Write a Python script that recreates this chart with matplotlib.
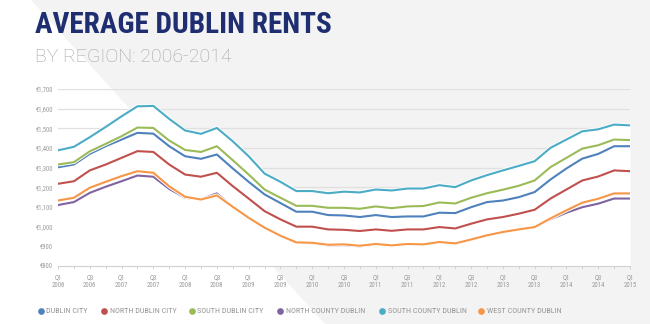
import matplotlib
matplotlib.use("Agg")
import matplotlib.pyplot as plt
from matplotlib.lines import Line2D
from matplotlib.patches import Polygon
import matplotlib.patheffects as pe
from matplotlib import font_manager

# ---------------- data ----------------
tick_labels = ["Q1\n2006", "Q3\n2006", "Q1\n2007", "Q3\n2007", "Q1\n2008", "Q3\n2008",
               "Q1\n2009", "Q3\n2009", "Q1\n2010", "Q3\n2010", "Q1\n2011", "Q3\n2011",
               "Q1\n2012", "Q3\n2012", "Q1\n2013", "Q3\n2013", "Q1\n2014", "Q3\n2014",
               "Q1\n2015"]
y_ticks = [800, 900, 1000, 1100, 1200, 1300, 1400, 1500, 1600, 1700]
y_labels = ["€800", "€900", "€1,000", "€1,100", "€1,200", "€1,300", "€1,400",
            "€1,500", "€1,600", "€1,700"]

series_names = ["DUBLIN CITY", "NORTH DUBLIN CITY", "SOUTH DUBLIN CITY",
                "NORTH COUNTY DUBLIN", "SOUTH COUNTY DUBLIN", "WEST COUNTY DUBLIN"]
series_colors = ["#4f81bd", "#c0504d", "#9bbb59", "#8064a2", "#4bacc6", "#f79646"]

dublin_city = [1302, 1316, 1370, 1409, 1443, 1477, 1473, 1409, 1358, 1345, 1367, 1296,
               1228, 1164, 1120, 1076, 1076, 1059, 1057, 1049, 1059, 1049, 1052, 1052,
               1071, 1069, 1099, 1125, 1133, 1150, 1176, 1240, 1296, 1346, 1370, 1409, 1409]
north_dublin_city = [1218, 1231, 1286, 1316, 1350, 1384, 1380, 1316, 1265, 1254, 1274, 1206,
                     1143, 1079, 1037, 1000, 1000, 986, 984, 978, 986, 979, 986, 986,
                     998, 991, 1015, 1037, 1049, 1066, 1086, 1143, 1189, 1235, 1255, 1286, 1282]
south_dublin_city = [1316, 1328, 1383, 1421, 1460, 1504, 1502, 1438, 1390, 1380, 1409, 1338,
                     1265, 1189, 1147, 1106, 1106, 1096, 1096, 1091, 1103, 1094, 1103, 1105,
                     1123, 1118, 1147, 1170, 1188, 1208, 1235, 1303, 1350, 1397, 1414, 1443, 1440]
north_county_dublin = [1110, 1125, 1172, 1203, 1231, 1260, 1254, 1192, 1147, 1140, 1169, 1101,
                       1045, 995, 952, 918, 916, 905, 906, 900, 910, 903, 910, 908,
                       920, 913, 933, 955, 972, 985, 998, 1037, 1071, 1099, 1117, 1143, 1143]
south_county_dublin = [1388, 1406, 1455, 1507, 1561, 1612, 1614, 1548, 1489, 1472, 1502, 1434,
                       1358, 1270, 1228, 1181, 1181, 1170, 1178, 1174, 1189, 1184, 1194, 1194,
                       1211, 1201, 1235, 1262, 1286, 1309, 1333, 1401, 1443, 1485, 1495, 1519, 1515]
west_county_dublin = [1133, 1147, 1198, 1228, 1257, 1282, 1274, 1205, 1152, 1138, 1159, 1101,
                      1045, 995, 954, 920, 918, 908, 910, 903, 912, 905, 912, 910,
                      922, 915, 935, 956, 973, 986, 998, 1042, 1083, 1122, 1142, 1169, 1169]

series_values = [dublin_city, north_dublin_city, south_dublin_city,
                 north_county_dublin, south_county_dublin, west_county_dublin]

# ---------------- fonts ----------------
names = {f.name for f in font_manager.fontManager.ttflist}
narrow = next((n for n in ["Roboto Condensed", "Liberation Sans Narrow"] if n in names), "Roboto")
small = narrow

# ---------------- figure ----------------
W, H = 650, 324
fig = plt.figure(figsize=(6.5, 3.24), dpi=100)
fig.patch.set_facecolor("white")


def fx(x):
    return x / W


def fy(y):
    return 1 - y / H


fig.add_artist(Polygon([(fx(31), 1), (1, 1), (1, 0), (fx(325), 0)], closed=True,
                       transform=fig.transFigure, facecolor="#f3f3f3",
                       edgecolor="none", zorder=-10))

ax = fig.add_axes([fx(58), fy(266), (630 - 58) / W, (266 - 89) / H])
ax.patch.set_visible(False)
ax.set_xlim(0, 36)
ax.set_ylim(800, 1700)
for s in ["top", "right", "left"]:
    ax.spines[s].set_visible(False)
ax.spines["bottom"].set_color("#d0d0d0")
ax.spines["bottom"].set_linewidth(0.8)

ax.set_yticks(y_ticks)
ax.set_yticklabels(y_labels, fontsize=4.8, color="#9a9a9a", family=small)
ax.tick_params(axis="y", length=0, pad=3.6)

x = list(range(len(dublin_city)))
ax.set_xticks(x[::2])
ax.set_xticklabels(tick_labels, fontsize=4.9, color="#9a9a9a", family=small,
                   linespacing=1.1)
ax.set_xticks(x, minor=True)
ax.tick_params(axis="x", which="both", length=2.2, width=0.6, color="#d0d0d0",
               direction="out", pad=4.0)
ax.grid(axis="y", color="#e0e0e0", linewidth=0.9)
ax.set_axisbelow(True)

ax.fill_between(x, 800, south_county_dublin, color="white", linewidth=0, zorder=1)

halo = [pe.Stroke(linewidth=2.8, foreground="white"), pe.Normal()]
for vals, col in zip(series_values, series_colors):
    ax.plot(x, vals, color=col, linewidth=1.5, zorder=3, path_effects=halo,
            solid_joinstyle="round")

# ---------------- titles ----------------
renderer = fig.canvas.get_renderer()


def fit(t, target):
    w = t.get_window_extent(renderer).width
    t.set_fontsize(t.get_fontsize() * target / w)


title = fig.text(fx(35), fy(33), "AVERAGE DUBLIN RENTS", fontsize=20, fontweight="bold",
                 color="#1f2e70", family=narrow, ha="left", va="baseline")
fit(title, 297)
sub = fig.text(fx(35), fy(62), "BY REGION: 2006-2014", fontsize=15, fontweight="light",
               color="#a3a3a3", family="Roboto", ha="left", va="baseline")
fit(sub, 197)

# ---------------- legend ----------------
legend_x = [41, 104, 192, 280, 382, 481]
texts = []
for lx, name, col in zip(legend_x, series_names, series_colors):
    fig.add_artist(Line2D([fx(lx)], [fy(311)], marker="o", markersize=3.8, color=col,
                          linestyle="none", transform=fig.transFigure))
    texts.append(fig.text(fx(lx + 5.5), fy(311), name, fontsize=5, color="#959595",
                          family=small, ha="left", va="center"))
w = texts[3].get_window_extent(renderer).width
for t in texts:
    t.set_fontsize(t.get_fontsize() * 79 / w)

fig.savefig("out.png", dpi=100, facecolor=fig.get_facecolor())
